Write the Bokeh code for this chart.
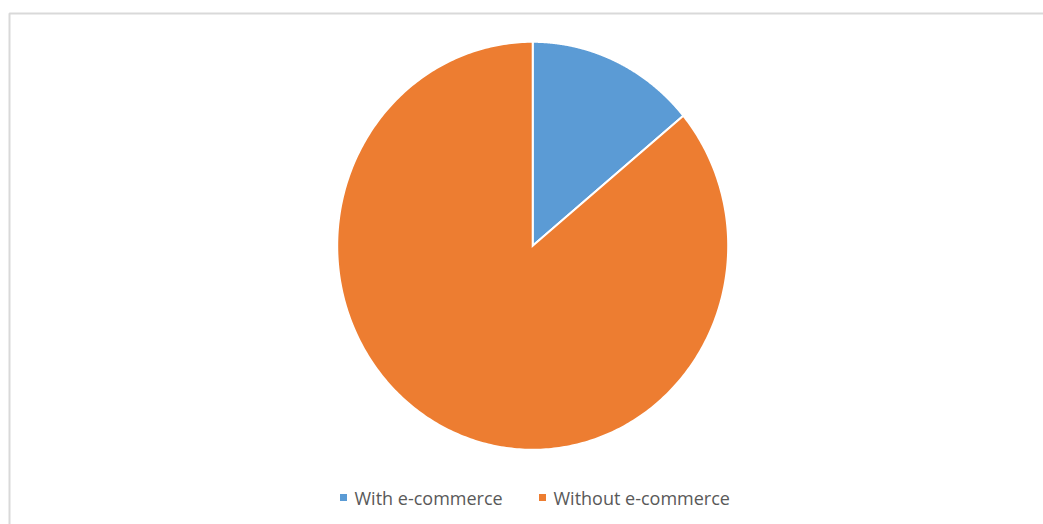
import numpy as np
from bokeh.plotting import figure
from bokeh.models import ColumnDataSource, Range1d
from bokeh.core.properties import value
from bokeh.embed import file_html
from bokeh.resources import INLINE

categories = ["With e-commerce", "Without e-commerce"]
shares = [14.0, 86.0]
colors = ["#5B9BD5", "#ED7D31"]

W, H = 1043, 524
p = figure(width=W, height=H, output_backend="svg", toolbar_location=None,
           x_range=Range1d(0, W), y_range=Range1d(0, H), min_border=0)
p.axis.visible = False
p.grid.visible = False
p.outline_line_color = None
p.background_fill_color = "white"
p.border_fill_color = "white"

# chart-area border
p.quad(left=[9], right=[1060], bottom=[-10], top=[H - 13], fill_color=None,
       line_color="#D9D9D9", line_width=2)

# elliptical pie
cx, cy = 532.2, H - 245.3
rx, ry = 195.5, 204.0
total = sum(shares)
cum = np.cumsum([0] + shares) / total
xs, ys = [], []
for i in range(len(shares)):
    t = np.linspace(cum[i], cum[i + 1], 400) * 2 * np.pi
    # clockwise from 12 o'clock
    px = cx + rx * np.sin(t)
    py = cy + ry * np.cos(t)
    xs.append([cx] + list(px) + [cx])
    ys.append([cy] + list(py) + [cy])
src = ColumnDataSource(dict(xs=xs, ys=ys, color=colors, name=categories))
p.patches("xs", "ys", source=src, fill_color="color", line_color="white",
          line_width=2, line_join="miter")

# legend
lx = [343, 542]
ly = H - 497
p.rect(x=lx, y=[ly, ly], width=7, height=7, fill_color=colors, line_color=None)
p.text(x=[x + 11 for x in lx], y=[ly, ly], text=categories,
       text_font=value("Open Sans"), text_font_size="18px",
       text_color="#595959", text_baseline="middle", text_align="left")

open("out.html", "w").write(file_html(p, INLINE))
